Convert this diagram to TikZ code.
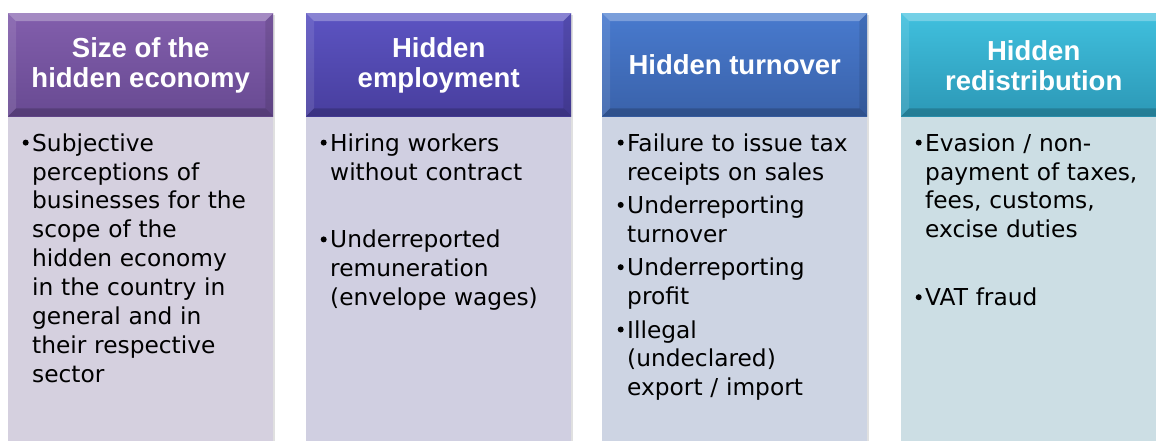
\documentclass[tikz,border=0pt]{standalone}
\usepackage{fontspec}
\setmainfont{DejaVu Sans}
\newfontfamily\hdrfont{Liberation Sans}
\usetikzlibrary{calc}
\definecolor{hAtop}{RGB}{130,94,172}
\definecolor{hAbot}{RGB}{104,74,146}
\definecolor{hBtop}{RGB}{92,84,194}
\definecolor{hBbot}{RGB}{72,62,158}
\definecolor{hCtop}{RGB}{72,122,206}
\definecolor{hCbot}{RGB}{58,98,170}
\definecolor{hDtop}{RGB}{64,192,222}
\definecolor{hDbot}{RGB}{44,152,182}
\definecolor{bA}{RGB}{213,208,223}
\definecolor{bB}{RGB}{208,207,225}
\definecolor{bC}{RGB}{205,212,227}
\definecolor{bD}{RGB}{204,222,228}
\newcommand{\nl}{\hfil\break}
\newcommand{\bulletdot}{\makebox[11pt][l]{\hspace{1.5pt}\raisebox{5.5pt}{\tikz\fill[black] (0,0) circle (3pt);}}}
\newcommand{\bitem}[1]{\par\hangindent=11pt\hangafter=1\noindent\bulletdot#1\par}
\tikzset{
  hdr/.style={anchor=north west, minimum width=265pt, minimum height=103pt, inner sep=0pt},
  hdrtext/.style={inner sep=0pt, text=white, align=center, font=\hdrfont\bfseries\fontsize{27.5}{30}\selectfont},
  bodybox/.style={anchor=north west, minimum width=265pt, minimum height=330pt, inner sep=0pt},
  bodytext/.style={anchor=north west, inner sep=0pt, text width=255pt,
    font=\fontsize{23.3}{28.9}\selectfont\raggedright},
  shadowbox/.style={fill=black, opacity=0.12},
}
\newcommand{\bevel}[1]{%
  \fill[white, opacity=0.28] (#1.north west) -- (#1.north east) -- ($(#1.north east)+(-8,8)$) -- ($(#1.north west)+(8,8)$) -- cycle;
  \fill[white, opacity=0.10] (#1.north west) -- ($(#1.north west)+(8,8)$) -- ($(#1.south west)+(8,-8)$) -- (#1.south west) -- cycle;
  \fill[black, opacity=0.10] (#1.north east) -- ($(#1.north east)+(-8,8)$) -- ($(#1.south east)+(-8,-8)$) -- (#1.south east) -- cycle;
  \fill[black, opacity=0.18] (#1.south west) -- ($(#1.south west)+(8,-8)$) -- ($(#1.south east)+(-8,-8)$) -- (#1.south east) -- cycle;
}
\begin{document}
\begin{tikzpicture}[x=1pt,y=-1pt]
\useasboundingbox (0,0) rectangle (1156,440);
\fill[white] (0,0) rectangle (1156,440);
\clip (0,0) rectangle (1156,440);
% shadows
\foreach \x in {8,306,602,901}{
  \fill[shadowbox] (\x+2,15) rectangle (\x+267,450);
}
% column 1
\node[bodybox, fill=bA] (b1) at (8,116) {};
\node[hdr, top color=hAtop, bottom color=hAbot] (h1) at (8,13) {};
\bevel{h1}
\node[hdrtext] (h1t) at ($(h1.center)+(0,1)$) {Size of the\\hidden economy};
\node[bodytext] (t1) at (21,122) {%
\bitem{Subjective\nl perceptions of\nl businesses for the\nl scope of the\nl hidden economy\nl in the country in\nl general and in\nl their respective\nl sector}};
% column 2
\node[bodybox, fill=bB] (b2) at (306,116) {};
\node[hdr, top color=hBtop, bottom color=hBbot] (h2) at (306,13) {};
\bevel{h2}
\node[hdrtext] (h2t) at ($(h2.center)+(0,1)$) {Hidden\\employment};
\node[bodytext] (t2) at (319,122) {%
\bitem{Hiring workers\nl without contract}\vspace{39pt}%
\bitem{Underreported\nl remuneration\nl (envelope wages)}};
% column 3
\node[bodybox, fill=bC] (b3) at (602,116) {};
\node[hdr, top color=hCtop, bottom color=hCbot] (h3) at (602,13) {};
\bevel{h3}
\node[hdrtext] (h3t) at ($(h3.center)+(0,0)$) {Hidden turnover};
\node[bodytext] (t3) at (616,122) {%
\bitem{Failure to issue tax\nl receipts on sales}\vspace{4.5pt}%
\bitem{Underreporting\nl turnover}\vspace{4.5pt}%
\bitem{Underreporting\nl profit}\vspace{4.5pt}%
\bitem{Illegal\nl (undeclared)\nl export / import}};
% column 4
\node[bodybox, fill=bD] (b4) at (901,116) {};
\node[hdr, top color=hDtop, bottom color=hDbot] (h4) at (901,13) {};
\bevel{h4}
\node[hdrtext] (h4t) at ($(h4.center)+(0,1)$) {Hidden\\redistribution};
\node[bodytext] (t4) at (914,122) {%
\bitem{Evasion / non-\nl payment of taxes,\nl fees, customs,\nl excise duties}\vspace{39pt}%
\bitem{VAT fraud}};
\end{tikzpicture}
\end{document}
